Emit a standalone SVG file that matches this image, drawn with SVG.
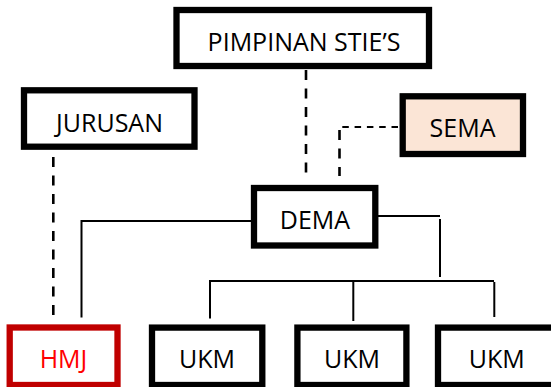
<svg xmlns="http://www.w3.org/2000/svg" width="551" height="387" viewBox="0 0 551 387">
<style>
.box{fill:#fff;stroke:#000;stroke-width:6.3}
.sema{fill:#FBE5D6}
.hmj{stroke:#C00000}
.t{font-family:"Open Sans","Liberation Sans",sans-serif;font-size:25px;fill:#000;text-anchor:middle}
.red{fill:#FF0000}
.ln{fill:none;stroke:#000;stroke-width:2}
.dv{fill:none;stroke:#000;stroke-width:2.6;stroke-dasharray:10 8.5}
.dh{fill:none;stroke:#000;stroke-width:2.2;stroke-dasharray:6.5 5.8}
</style>
<rect width="551" height="387" fill="#fff"/>
<g id="connectors">
<line class="dv" x1="306" y1="70" x2="306" y2="176"/>
<line class="dv" x1="53.3" y1="157" x2="53.3" y2="317"/>
<line class="dh" x1="398" y1="127" x2="339.5" y2="127"/>
<line class="dv" x1="339.5" y1="130" x2="339.5" y2="176"/>
<polyline class="ln" points="251,221 81.5,221 81.5,317.5"/>
<polyline class="ln" points="378,216 440,216"/>
<line class="ln" x1="440" y1="219" x2="440" y2="277"/>
<polyline class="ln" points="210,318.5 210,281 494,281"/>
<line class="ln" x1="353.3" y1="282" x2="353.3" y2="321"/>
<line class="ln" x1="494.3" y1="282" x2="494.3" y2="317"/>
</g>
<g id="pimpinan">
<rect class="box" x="176.5" y="10" width="252.5" height="56"/>
<text class="t" x="304" y="50.5">PIMPINAN STIE’S</text>
</g>
<g id="jurusan">
<rect class="box" x="24" y="90.3" width="170.5" height="56.4"/>
<text class="t" x="109.5" y="131.5">JURUSAN</text>
</g>
<g id="sema">
<rect class="box sema" x="402.7" y="96.3" width="120.3" height="57.7"/>
<text class="t" x="462.5" y="136.5">SEMA</text>
</g>
<g id="dema">
<rect class="box" x="254" y="188" width="121.3" height="57.5"/>
<text class="t" x="315" y="229">DEMA</text>
</g>
<g id="hmj">
<rect class="box hmj" x="9.7" y="327.5" width="107.8" height="57.5"/>
<text class="t red" x="63.5" y="368.3">HMJ</text>
</g>
<g id="ukm1">
<rect class="box" x="152" y="327.6" width="110.3" height="57.4"/>
<text class="t" x="207" y="368.3">UKM</text>
</g>
<g id="ukm2">
<rect class="box" x="297.4" y="327.6" width="109" height="57.4"/>
<text class="t" x="352" y="368.3">UKM</text>
</g>
<g id="ukm3">
<rect class="box" x="438" y="327.6" width="117" height="57.4"/>
<text class="t" x="496.7" y="368.3">UKM</text>
</g>
</svg>
